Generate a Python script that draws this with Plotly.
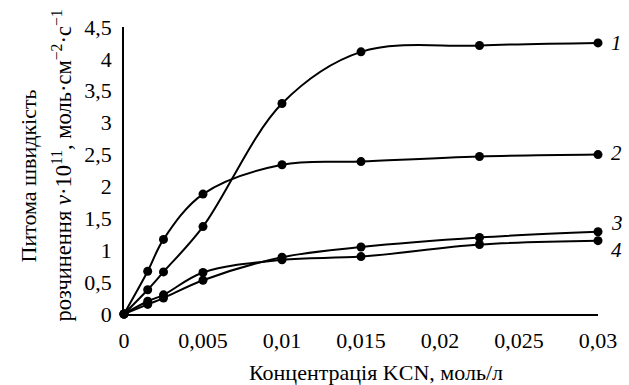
import plotly.graph_objects as go

x_conc = [0, 0.0015, 0.0025, 0.005, 0.01, 0.015, 0.0225, 0.03]
curve1 = [0, 0.38, 0.66, 1.37, 3.30, 4.11, 4.21, 4.25]
curve2 = [0, 0.67, 1.17, 1.88, 2.34, 2.39, 2.47, 2.50]
curve3 = [0, 0.15, 0.25, 0.53, 0.89, 1.05, 1.20, 1.29]
curve4 = [0, 0.20, 0.30, 0.65, 0.85, 0.90, 1.09, 1.15]
series = [("1", curve1), ("2", curve2), ("3", curve3), ("4", curve4)]
label_shift = {"1": 0, "2": 2, "3": 9, "4": -9}

x_ticks = [0, 0.005, 0.01, 0.015, 0.02, 0.025, 0.03]
x_tick_text = ["0", "0,005", "0,01", "0,015", "0,02", "0,025", "0,03"]
y_ticks = [0, 0.5, 1, 1.5, 2, 2.5, 3, 3.5, 4, 4.5]
y_tick_text = ["0", "0,5", "1", "1,5", "2", "2,5", "3", "3,5", "4", "4,5"]

x_title = "Концентрація KCN, моль/л"
y_title_1 = "Питома швидкість"
y_title_2 = "розчинення <i>v</i>·10<sup>11</sup>, моль·см<sup>−2</sup>·с<sup>−1</sup>"

FONT = "Liberation Serif, Times New Roman, serif"

fig = go.Figure()
for name, ys in series:
    fig.add_trace(go.Scatter(
        x=x_conc, y=ys, mode="lines+markers", name=name,
        line=dict(color="black", width=2, shape="spline", smoothing=1.0),
        marker=dict(color="black", size=9),
        cliponaxis=False, showlegend=False, hoverinfo="skip",
    ))
    fig.add_annotation(
        x=x_conc[-1], y=ys[-1], text="<i>" + name + "</i>", showarrow=False,
        xanchor="left", yanchor="middle", xshift=11, yshift=label_shift[name],
        font=dict(family=FONT, size=21, color="black"),
    )

# axis titles as annotations (paper coords + pixel shifts)
fig.add_annotation(xref="paper", yref="paper", x=0.5, y=0, text=x_title,
                   showarrow=False, xanchor="center", yanchor="middle",
                   xshift=15, yshift=-58, font=dict(family=FONT, size=22))
fig.add_annotation(xref="paper", yref="paper", x=0, y=0.5, text=y_title_1,
                   showarrow=False, textangle=-90, xanchor="center", yanchor="middle",
                   xshift=-96, yshift=-6, font=dict(family=FONT, size=22))
fig.add_annotation(xref="paper", yref="paper", x=0, y=0.5, text=y_title_2,
                   showarrow=False, textangle=-90, xanchor="center", yanchor="middle",
                   xshift=-63, yshift=5, font=dict(family=FONT, size=22.5))

fig.update_layout(
    width=629, height=385,
    margin=dict(l=124, r=23, t=27, b=71),
    paper_bgcolor="white", plot_bgcolor="white",
    font=dict(family=FONT, size=22, color="black"),
    xaxis=dict(
        range=[0, 0.03], tickvals=x_ticks, ticktext=x_tick_text,
        showgrid=False, zeroline=False, showline=True, linecolor="black", linewidth=1.5,
        ticks="", tickfont=dict(size=22), ticklabelstandoff=6,
    ),
    yaxis=dict(
        range=[0, 4.5], tickvals=y_ticks, ticktext=y_tick_text,
        showgrid=False, zeroline=False, showline=True, linecolor="black", linewidth=1.5,
        ticks="", tickfont=dict(size=22), ticklabelstandoff=6,
    ),
)

fig.write_html(
    "out.html",
    config={"displayModeBar": False},
    post_script="document.body.style.margin='0';document.body.style.overflow='hidden';",
)
